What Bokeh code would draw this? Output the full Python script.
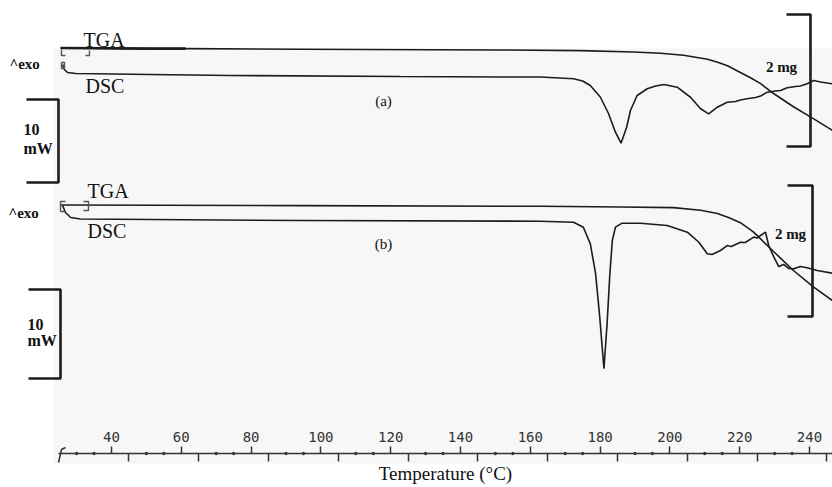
from bokeh.plotting import figure
from bokeh.models import Range1d, LinearAxis, FixedTicker, Label
from bokeh.embed import file_html
from bokeh.resources import INLINE

# ---------------- data (temperature in °C) ----------------
# (a) DSC heat flow, mW (relative to baseline, exo up)
dsc_a_T = [26.0, 26.5, 27.4, 29.7, 51.2, 74.1, 122.8, 151.5, 162.9, 172.4, 175.0, 177.2,
           180.1, 182.4, 184.4, 186.0, 187.6, 188.7, 190.6, 193.5, 195.9, 198.3, 202.1,
           205.9, 208.8, 211.1, 213.6, 216.4, 218.8, 220.2, 222.1, 224.5, 226.0, 227.9,
           230.3, 231.7, 233.6, 236.0, 237.4, 239.3, 241.2, 243.2, 246.6]
dsc_a_mW = [1.08, 0.48, 0.12, 0.0, -0.12, -0.24, -0.36, -0.42, -0.42, -0.64, -0.90, -1.45,
            -2.86, -4.82, -7.07, -8.40, -6.47, -4.46, -2.65, -1.84, -1.51, -1.33, -1.65,
            -2.86, -4.25, -4.86, -4.06, -3.46, -3.37, -3.19, -3.05, -2.89, -2.71, -2.25,
            -2.11, -2.05, -1.72, -1.57, -1.51, -1.24, -0.84, -1.02, -1.24]
# (a) TGA mass change, mg
tga_a_T = [25.4, 51.2, 61.2, 94.2, 151.5, 174.4, 189.6, 197.3, 203.9, 210.8, 213.9, 216.5,
           220.2, 223.1, 226.0, 229.7, 235.4, 241.1, 246.6]
tga_a_mg = [0.0, -0.01, -0.01, -0.02, -0.03, -0.04, -0.06, -0.08, -0.11, -0.17, -0.22, -0.27,
            -0.37, -0.45, -0.54, -0.69, -0.89, -1.07, -1.25]
# (b) DSC heat flow, mW
dsc_b_T = [26.0, 26.8, 28.3, 31.1, 94.2, 162.9, 172.4, 175.2, 177.2, 178.7, 179.9, 181.1,
           182.0, 182.8, 183.5, 184.4, 186.3, 191.6, 199.2, 205.0, 208.3, 210.7, 212.1,
           214.5, 216.4, 217.6, 220.2, 221.6, 224.0, 225.1, 226.0, 227.4, 228.3, 229.8,
           231.2, 232.6, 234.0, 235.5, 237.4, 239.3, 242.2, 246.6]
dsc_b_mW = [1.52, 0.73, 0.17, 0.0, -0.17, -0.25, -0.36, -0.92, -2.79, -6.12, -11.03, -16.83,
            -11.78, -6.16, -2.42, -0.92, -0.47, -0.47, -0.73, -1.48, -2.61, -3.91, -3.99,
            -3.54, -2.98, -3.09, -2.61, -2.64, -2.04, -2.13, -1.85, -1.48, -2.98, -4.29,
            -5.34, -5.11, -5.56, -5.60, -5.34, -5.48, -5.79, -6.09]
# (b) TGA mass change, mg
tga_b_T = [25.4, 94.2, 162.9, 185.8, 201.0, 208.8, 213.6, 216.8, 220.2, 223.9, 229.7,
           235.4, 241.1, 246.6]
tga_b_mg = [0.0, -0.01, -0.02, -0.03, -0.04, -0.08, -0.13, -0.19, -0.27, -0.41, -0.71,
            -1.00, -1.25, -1.46]

major_ticks = [40, 60, 80, 100, 120, 140, 160, 180, 200, 220, 240]
down_ticks = [45, 65, 85, 105, 125, 145, 165, 185, 205, 225, 245]
dot_ticks = [30, 35, 50, 55, 70, 75, 90, 95, 110, 115, 130, 135, 150, 155, 170, 175,
             190, 195, 210, 215, 230, 235, 250]

# ---------------- layout helpers ----------------
W, H = 832, 487
X40, PX_PER_C = 111, 3.49


def T(px):
    return 40 + (px - X40) / PX_PER_C


# panel placement (vertical pixel rows) and scales
A_DSC_BASE, A_DSC_SCALE = 73, 8.3     # px per mW
A_TGA_BASE, A_TGA_SCALE = 47.5, 66.0  # px per mg
B_DSC_BASE, B_DSC_SCALE = 218.5, 8.9
B_TGA_BASE, B_TGA_SCALE = 204.5, 65.5
AXIS_Y = 453
INK = "#1c1c1c"

p = figure(width=W, height=H, output_backend="svg", toolbar_location=None,
           x_range=Range1d(T(0), T(W)), y_range=Range1d(H, 0),
           x_axis_type=None, y_axis_type=None, min_border=0,
           background_fill_color="white", border_fill_color="white",
           outline_line_color=None)
p.grid.visible = False

# scanned paper tone
p.quad(left=T(53), right=T(832), top=48, bottom=463, fill_color="#f7f7f7", line_color=None)

# curves
p.line(dsc_a_T, [A_DSC_BASE - v * A_DSC_SCALE for v in dsc_a_mW], line_color=INK, line_width=1.6)
p.line(tga_a_T, [A_TGA_BASE - v * A_TGA_SCALE for v in tga_a_mg], line_color=INK, line_width=1.6)
p.line(tga_a_T[:3], [A_TGA_BASE - v * A_TGA_SCALE for v in tga_a_mg[:3]], line_color=INK, line_width=2.6)
p.line(dsc_b_T, [B_DSC_BASE - v * B_DSC_SCALE for v in dsc_b_mW], line_color=INK, line_width=1.6)
p.line(tga_b_T, [B_TGA_BASE - v * B_TGA_SCALE for v in tga_b_mg], line_color=INK, line_width=1.6)

# start markers
def poly(pts, w=1.4, c="#555555"):
    p.line([T(x) for x, _ in pts], [y for _, y in pts], line_color=c, line_width=w)

poly([(61, 49), (61, 55), (65, 55)])
poly([(85, 55), (89, 55), (89, 50)])
poly([(61, 62), (64, 62), (64, 68), (61, 68), (61, 62)])
poly([(65, 201), (60, 201), (60, 211), (65, 211)])
poly([(83, 201), (88, 201), (88, 210), (83, 210)])

# scale bars
def bracket(x_in, x_v, y_top, length, w=2.6):
    p.line([T(x_in), T(x_v), T(x_v), T(x_in)], [y_top, y_top, y_top + length, y_top + length],
           line_color=INK, line_width=w)

bracket(26, 58, 99, 10 * A_DSC_SCALE)
bracket(28, 60, 289, 10 * B_DSC_SCALE)
bracket(786, 810, 14, 2 * A_TGA_SCALE)
bracket(787, 812, 185, 2 * B_TGA_SCALE)

# axis
ax = LinearAxis(ticker=FixedTicker(ticks=major_ticks, minor_ticks=down_ticks),
                fixed_location=AXIS_Y, bounds=(T(58), T(840)))
ax.axis_line_color = "#333333"
ax.axis_line_width = 1.5
ax.major_tick_line_color = "#333333"
ax.major_tick_line_width = 1.5
ax.major_tick_in = 7
ax.major_tick_out = 0
ax.minor_tick_line_color = "#333333"
ax.minor_tick_line_width = 1.5
ax.minor_tick_in = 0
ax.minor_tick_out = 8
ax.major_label_text_font = "DejaVu Sans Mono"
ax.major_label_text_font_size = "14px"
ax.major_label_text_color = "#333333"
ax.major_label_standoff = -30
ax.axis_label = "Temperature (°C)"
ax.axis_label_text_font = "Liberation Serif"
ax.axis_label_text_font_size = "19px"
ax.axis_label_text_font_style = "normal"
ax.axis_label_text_color = "#111111"
ax.axis_label_standoff = 18
p.add_layout(ax, "below")

p.scatter([t for t in dot_ticks], [AXIS_Y] * len(dot_ticks), size=2.5, color="#333333")
p.line([T(58), T(61), T(65)], [462, 449, 447], line_color="#333333", line_width=1.5)

# labels
def lab(text, x, y, size, bold=False, align="left"):
    p.add_layout(Label(x=T(x), y=y, text=text, text_font="Liberation Serif",
                       text_font_size=f"{size}px", text_font_style="bold" if bold else "normal",
                       text_color="#111111", text_align=align, text_baseline="middle"))

lab("TGA", 83, 39, 20)
lab("DSC", 85, 85, 20)
lab("TGA", 87, 190, 20)
lab("DSC", 87, 230, 20)
lab("^exo", 9, 63, 15, bold=True)
lab("^exo", 8, 212, 15, bold=True)
lab("10", 23, 129, 16, bold=True)
lab("mW", 23, 148, 16, bold=True)
lab("10", 27, 324, 16, bold=True)
lab("mW", 27, 340, 16, bold=True)
lab("2 mg", 781, 66, 15, bold=True, align="center")
lab("2 mg", 790, 233, 15, bold=True, align="center")
lab("(a)", 383, 100, 15, align="center")
lab("(b)", 383, 243, 15, align="center")

open("out.html", "w").write(file_html(p, INLINE))
